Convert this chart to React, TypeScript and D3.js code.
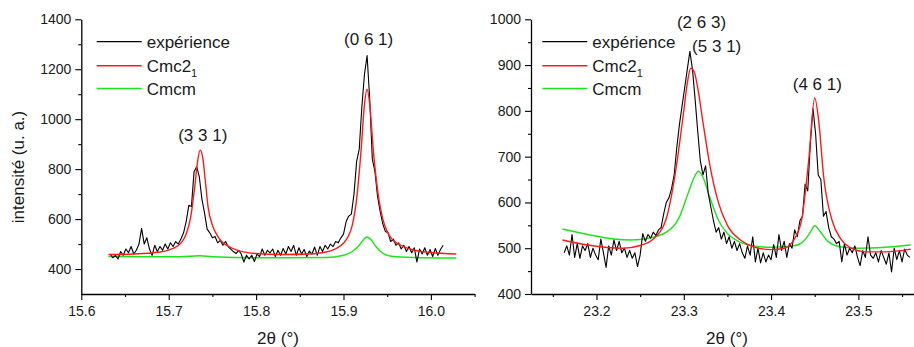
import React, { useEffect, useRef } from "react";
import * as d3 from "d3";

// ---------- data ----------
// Left panel: experimental profile, 2θ from 15.633 in steps of 0.003°
const leftExpStart = 15.633;
const leftExpStep = 0.003;
const leftExp = [
  460, 445, 455, 440, 470, 455, 480, 465, 490, 460, 475, 500, 563, 500, 525, 480, 455, 495, 470, 490,
  475, 500, 480, 505, 490, 510, 500, 520, 545, 590, 655, 650, 790, 810, 770, 680, 625, 560, 545, 525,
  530, 505, 515, 495, 510, 490, 480, 470, 462, 475, 460, 428, 455, 440, 455, 430, 460, 450, 480, 455,
  475, 465, 480, 450, 475, 455, 482, 460, 490, 470, 495, 455, 485, 460, 478, 450, 472, 460, 488, 455,
  490, 470, 495, 480, 500, 490, 510, 505, 525, 540, 590, 612, 620, 700, 830, 880, 1050, 1180, 1255, 1080,
  840, 790, 690, 630, 580, 550, 545, 510, 520, 495, 505, 480, 495, 470, 490, 465, 485, 428, 480, 460,
  485, 455, 478, 450, 482, 455, 478, 495,
];
// Left panel: Cmc2_1 model (2θ, intensity)
const leftCmc21X = [15.631, 15.66, 15.69, 15.7, 15.71, 15.715, 15.72, 15.725, 15.73, 15.733, 15.736, 15.739, 15.742, 15.745, 15.75, 15.755, 15.76, 15.77, 15.78, 15.8, 15.83, 15.86, 15.88, 15.89, 15.9, 15.905, 15.91, 15.915, 15.92, 15.924, 15.927, 15.93, 15.934, 15.94, 15.945, 15.95, 15.955, 15.96, 15.97, 15.98, 16.0, 16.029];
const leftCmc21Y = [458, 460, 468, 476, 492, 508, 540, 605, 735, 830, 876, 845, 750, 650, 575, 538, 512, 488, 474, 462, 458, 460, 468, 480, 503, 528, 575, 680, 870, 1060, 1120, 1060, 880, 690, 600, 550, 522, 506, 488, 476, 466, 460];
// Left panel: Cmcm model
const leftCmcmX = [15.631, 15.7, 15.725, 15.736, 15.75, 15.8, 15.88, 15.9, 15.91, 15.918, 15.923, 15.927, 15.932, 15.937, 15.945, 15.955, 15.98, 16.029];
const leftCmcmY = [450, 449, 451, 453, 449, 445, 446, 455, 470, 495, 518, 528, 515, 490, 463, 451, 446, 444];

// Right panel: experimental profile, 2θ from 23.163 in steps of 0.003°
const rightExpStart = 23.163;
const rightExpStep = 0.003;
const rightExp = [
  490, 505, 485, 530, 480, 510, 478, 505, 495, 510, 480, 500, 485, 475, 520, 490, 458, 505, 485, 518,
  495, 515, 490, 500, 480, 495, 478, 490, 460, 485, 532, 515, 530, 522, 535, 528, 540, 545, 575, 600,
  610, 630, 660, 720, 770, 810, 850, 890, 930, 890, 825, 755, 690, 660, 680, 620, 590, 560, 535, 545,
  520, 535, 510, 525, 500, 515, 495, 510, 490, 478, 505, 485, 525, 470, 500, 468, 490, 470, 485, 475,
  508, 480, 530, 495, 515, 480, 510, 500, 540, 525, 560, 570, 640, 625, 730, 805, 750, 660, 650, 570,
  580, 545, 525, 520, 510, 515, 470, 510, 485, 500, 490, 505, 480, 462, 495, 480, 525, 485, 478, 490,
  470, 495, 480, 465, 490, 448, 500, 475, 495, 470, 498, 485, 480,
];
// Right panel: Cmc2_1 model
const rightCmc21X = [23.161, 23.19, 23.23, 23.25, 23.265, 23.28, 23.29, 23.3, 23.304, 23.308, 23.312, 23.316, 23.322, 23.33, 23.34, 23.35, 23.365, 23.38, 23.4, 23.415, 23.425, 23.435, 23.443, 23.45, 23.455, 23.46, 23.47, 23.48, 23.49, 23.51, 23.53, 23.56];
const rightCmc21Y = [518, 507, 500, 506, 520, 565, 660, 800, 860, 893, 885, 850, 775, 680, 598, 550, 518, 503, 497, 500, 515, 562, 690, 828, 770, 660, 560, 520, 502, 492, 492, 498];
// Right panel: Cmcm model
const rightCmcmX = [23.161, 23.19, 23.22, 23.24, 23.26, 23.28, 23.295, 23.305, 23.312, 23.317, 23.322, 23.33, 23.34, 23.35, 23.365, 23.38, 23.4, 23.425, 23.437, 23.445, 23.45, 23.456, 23.465, 23.48, 23.5, 23.53, 23.56];
const rightCmcmY = [542, 530, 520, 518, 522, 535, 568, 620, 655, 668, 655, 610, 560, 532, 513, 505, 502, 505, 515, 535, 549, 537, 515, 503, 500, 502, 507];

// Axis ticks
const leftXTicks = [15.6, 15.7, 15.8, 15.9, 16.0];
const leftXMinor = [15.65, 15.75, 15.85, 15.95, 16.05];
const leftYTicks = [400, 600, 800, 1000, 1200, 1400];
const leftYMinor = [500, 700, 900, 1100, 1300];
const rightXTicks = [23.2, 23.3, 23.4, 23.5];
const rightXMinor = [23.15, 23.25, 23.35, 23.45, 23.55];
const rightYTicks = [400, 500, 600, 700, 800, 900, 1000];
const rightYMinor = [450, 550, 650, 750, 850, 950];

// Peak labels
const leftPeaks = [
  { label: "(3 3 1)", x: 15.739, y: 912 },
  { label: "(0 6 1)", x: 15.9288, y: 1296 },
];
const rightPeaks = [
  { label: "(2 6 3)", x: 23.3203, y: 982 },
  { label: "(5 3 1)", x: 23.3377, y: 928 },
  { label: "(4 6 1)", x: 23.453, y: 846 },
];

const FONT = "'Liberation Sans', Arial, Helvetica, sans-serif";
const RED = "#ff1a1a";
const GREEN = "#19e619";

type PanelProps = {
  x0: number; x1: number; xd: [number, number];
  yd: [number, number];
  xTicks: number[]; xMinor: number[]; yTicks: number[]; yMinor: number[];
  expStart: number; expStep: number; exp: number[];
  rX: number[]; rY: number[]; gX: number[]; gY: number[];
  peaks: { label: string; x: number; y: number }[];
  legendX: number;
  xTitleX: number;
};

const TOP = 19.3;
const BOTTOM = 294;

function Panel(p: PanelProps) {
  const xAxisRef = useRef<SVGGElement>(null);
  const xMinorRef = useRef<SVGGElement>(null);
  const yAxisRef = useRef<SVGGElement>(null);
  const yMinorRef = useRef<SVGGElement>(null);
  const x = d3.scaleLinear().domain(p.xd).range([p.x0, p.x1]);
  const y = d3.scaleLinear().domain(p.yd).range([BOTTOM, TOP]);

  useEffect(() => {
    const style = (g: d3.Selection<SVGGElement, unknown, null, undefined>) => {
      g.attr("font-family", FONT).attr("font-size", 14);
      g.selectAll("path.domain").attr("stroke", "#000").attr("stroke-width", 1.3);
      g.selectAll(".tick line").attr("stroke", "#000").attr("stroke-width", 1.1);
      g.selectAll(".tick text").attr("fill", "#1a1a1a");
    };
    const xa = d3.select(xAxisRef.current!);
    xa.call(
      d3.axisBottom(x).tickValues(p.xTicks).tickFormat(d3.format(".1f")).tickSize(6).tickSizeOuter(0).tickPadding(6)
    );
    style(xa);
    const xm = d3.select(xMinorRef.current!);
    xm.call(d3.axisBottom(x).tickValues(p.xMinor).tickFormat(() => "").tickSize(3).tickSizeOuter(0));
    style(xm);
    xm.select("path.domain").remove();
    const ya = d3.select(yAxisRef.current!);
    ya.call(d3.axisLeft(y).tickValues(p.yTicks).tickFormat(d3.format("d")).tickSize(6).tickSizeOuter(0).tickPadding(4));
    style(ya);
    const ym = d3.select(yMinorRef.current!);
    ym.call(d3.axisLeft(y).tickValues(p.yMinor).tickFormat(() => "").tickSize(3).tickSizeOuter(0));
    style(ym);
    ym.select("path.domain").remove();
  });

  const expPts: [number, number][] = p.exp.map((v, i) => [p.expStart + i * p.expStep, v]);
  const lineLin = d3.line<[number, number]>().x((d) => x(d[0])).y((d) => y(d[1]));
  const lineSmooth = d3
    .line<[number, number]>()
    .x((d) => x(d[0]))
    .y((d) => y(d[1]))
    .curve(d3.curveMonotoneX);
  const red: [number, number][] = p.rX.map((v, i) => [v, p.rY[i]]);
  const green: [number, number][] = p.gX.map((v, i) => [v, p.gY[i]]);

  const legend = [
    { name: "expérience", color: "#000", w: 1.2 },
    { name: "Cmc2", sub: "1", color: RED, w: 1.5 },
    { name: "Cmcm", color: GREEN, w: 1.5 },
  ];
  const legendY = [41.7, 65.7, 88.5];

  return (
    <g>
      <path d={lineSmooth(green) || ""} fill="none" stroke={GREEN} strokeWidth={1.4} />
      <path d={lineLin(expPts) || ""} fill="none" stroke="#000" strokeWidth={1.1} strokeLinejoin="round" />
      <path d={lineSmooth(red) || ""} fill="none" stroke={RED} strokeWidth={1.4} />
      <g ref={xMinorRef} transform={`translate(0,${BOTTOM})`} />
      <g ref={xAxisRef} transform={`translate(0,${BOTTOM})`} />
      <g ref={yMinorRef} transform={`translate(${p.x0},0)`} />
      <g ref={yAxisRef} transform={`translate(${p.x0},0)`} />
      {legend.map((l, i) => (
        <g key={l.name}>
          <line x1={p.legendX} x2={p.legendX + 45} y1={legendY[i]} y2={legendY[i]} stroke={l.color} strokeWidth={l.w} />
          <text x={p.legendX + 50} y={legendY[i] + 6} fontFamily={FONT} fontSize={17} fill="#1a1a1a">
            {l.name}
            {l.sub ? (
              <tspan fontSize={11} dy={5}>
                {l.sub}
              </tspan>
            ) : null}
          </text>
        </g>
      ))}
      {p.peaks.map((pk) => (
        <text key={pk.label} x={x(pk.x)} y={y(pk.y)} textAnchor="middle" fontFamily={FONT} fontSize={17} fill="#1a1a1a">
          {pk.label}
        </text>
      ))}
      <text x={p.xTitleX} y={344} textAnchor="middle" fontFamily={FONT} fontSize={17} fill="#1a1a1a">
        2θ (°)
      </text>
    </g>
  );
}

export default function App() {
  return (
    <svg width={914} height={347} style={{ position: "absolute", left: 0, top: 0, background: "#fff" }}>
      <rect width={914} height={347} fill="#fff" />
      <Panel
        x0={81.3} x1={81.3 + 0.45 * 874} xd={[15.6, 16.05]} yd={[300, 1400]}
        xTicks={leftXTicks} xMinor={leftXMinor} yTicks={leftYTicks} yMinor={leftYMinor}
        expStart={leftExpStart} expStep={leftExpStep} exp={leftExp}
        rX={leftCmc21X} rY={leftCmc21Y} gX={leftCmcmX} gY={leftCmcmY}
        peaks={leftPeaks} legendX={96.7} xTitleX={278}
      />
      <Panel
        x0={531} x1={531 + 0.45 * 873} xd={[23.125, 23.575]} yd={[400, 1000]}
        xTicks={rightXTicks} xMinor={rightXMinor} yTicks={rightYTicks} yMinor={rightYMinor}
        expStart={rightExpStart} expStep={rightExpStep} exp={rightExp}
        rX={rightCmc21X} rY={rightCmc21Y} gX={rightCmcmX} gY={rightCmcmY}
        peaks={rightPeaks} legendX={542.3} xTitleX={727}
      />
      <text
        transform="translate(24,167) rotate(-90)"
        textAnchor="middle"
        fontFamily={FONT}
        fontSize={17}
        fill="#1a1a1a"
      >
        intensité (u. a.)
      </text>
    </svg>
  );
}
